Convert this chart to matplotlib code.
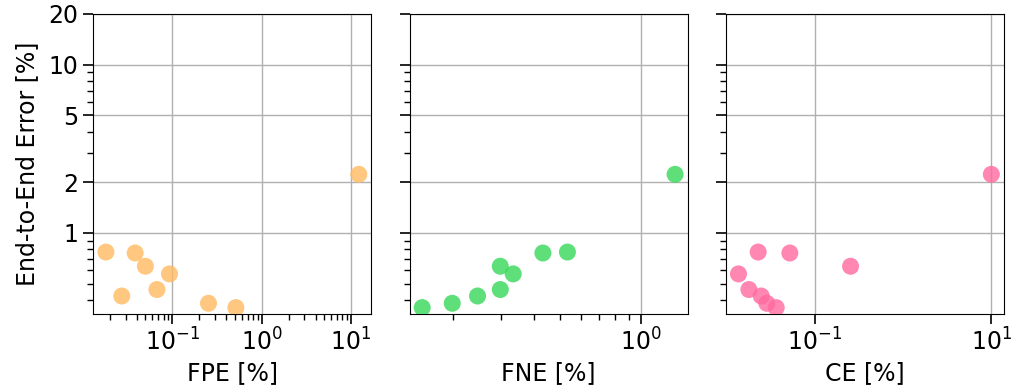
import matplotlib
matplotlib.use("Agg")
import matplotlib.pyplot as plt
from matplotlib.ticker import ScalarFormatter, NullFormatter, NullLocator, FixedLocator

e2e = [0.770, 0.760, 0.634, 0.571, 0.461, 0.422, 0.382, 0.360, 2.23]
fpe = [0.0181, 0.0384, 0.050, 0.093, 0.0673, 0.0272, 0.254, 0.514, 12.2]
fne = [0.532, 0.431, 0.299, 0.334, 0.299, 0.246, 0.198, 0.153, 1.34]
ce = [0.0228, 0.0521, 0.254, 0.01364, 0.0179, 0.0247, 0.0286, 0.0365, 10.0]

xlabels = ["FPE [%]", "FNE [%]", "CE [%]"]
colors = ["#ffba60", "#37d859", "#ff699f"]
yticks = [1, 2, 5, 10, 20]
ce_ticks = [0.1, 10]

fig, axes = plt.subplots(1, 3, figsize=(10.13, 3.91), dpi=100, sharey=True)
fig.subplots_adjust(left=0.0921, right=0.9911, top=0.9642, bottom=0.197, wspace=0.137)

for ax, x, lab, col in zip(axes, [fpe, fne, ce], xlabels, colors):
    ax.scatter(x, e2e, s=150, c=col, alpha=0.8, edgecolors="none", zorder=3)
    ax.set_xscale("log")
    ax.set_yscale("log")
    ax.grid(True, which="major", color="#b0b0b0", linewidth=1)
    ax.set_xlabel(lab, fontsize=17)
    ax.tick_params(labelsize=17, length=7, width=1.2)
    ax.tick_params(which="minor", length=4, width=1)

# third panel only shows every other decade
axes[2].xaxis.set_major_locator(FixedLocator(ce_ticks))
axes[2].xaxis.set_minor_locator(NullLocator())

axes[0].set_ylim(0.33, 20)
axes[0].set_yticks(yticks)
axes[0].yaxis.set_major_formatter(ScalarFormatter())
axes[0].yaxis.set_minor_formatter(NullFormatter())
axes[0].set_ylabel("End-to-End Error [%]", fontsize=17, labelpad=7)

fig.savefig("out.png", dpi=100)
